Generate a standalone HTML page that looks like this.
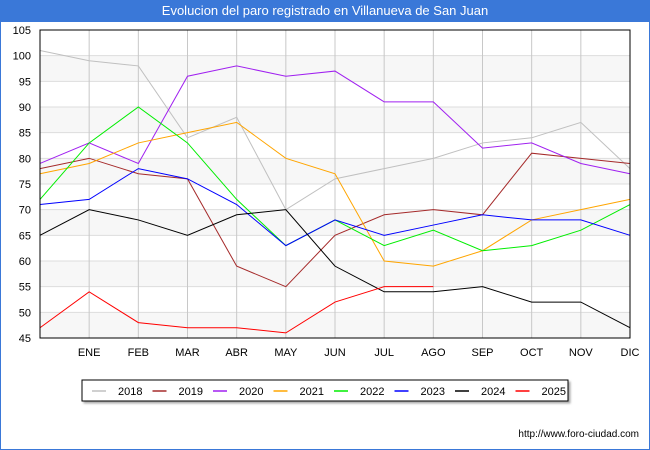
<!DOCTYPE html>
<html><head><meta charset="utf-8"><style>
body{margin:0;width:650px;height:450px;overflow:hidden;font-family:"Liberation Sans",sans-serif;}
#wrap{position:absolute;left:0;top:0;width:648px;height:448px;border:1px solid #3a78d8;background:#fff;}
#title{position:absolute;left:0;top:0;width:650px;height:22px;background:#3a78d8;color:#fff;font-size:13px;text-align:center;line-height:22px;}
</style></head><body>
<div id="wrap"></div>
<div id="title">Evolucion del paro registrado en Villanueva de San Juan</div>
<svg id="c" width="650" height="450" style="position:absolute;left:0;top:0"></svg>
<script>
const months=["","ENE","FEB","MAR","ABR","MAY","JUN","JUL","AGO","SEP","OCT","NOV","DIC"];
const yTicks=[45,50,55,60,65,70,75,80,85,90,95,100,105];
const years=["2018","2019","2020","2021","2022","2023","2024","2025"];
const colors=["#c0c0c0","#a52a2a","#a020f0","#ffa500","#00ee00","#0000ff","#000000","#ff0000"];
const s2018=[101,99,98,84,88,70,76,78,80,83,84,87,78];
const s2019=[78,80,77,76,59,55,65,69,70,69,81,80,79];
const s2020=[79,83,79,96,98,96,97,91,91,82,83,79,77];
const s2021=[77,79,83,85,87,80,77,60,59,62,68,70,72];
const s2022=[72,83,90,83,72,63,68,63,66,62,63,66,71];
const s2023=[71,72,78,76,71,63,68,65,67,69,68,68,65];
const s2024=[65,70,68,65,69,70,59,54,54,55,52,52,47];
const s2025=[47,54,48,47,47,46,52,55,55];
const series=[s2018,s2019,s2020,s2021,s2022,s2023,s2024,s2025];
const L=40,R=630,T=30,B=338,ymin=45,ymax=105;
const X=i=>L+i*(R-L)/12;
const Y=v=>B-(v-ymin)*(B-T)/(ymax-ymin);
const svg=document.getElementById('c');const NS='http://www.w3.org/2000/svg';
function mk(t,a,p){const e=document.createElementNS(NS,t);for(const k in a)e.setAttribute(k,a[k]);(p||svg).appendChild(e);return e;}
for(let i=0;i<yTicks.length-1;i++){
 if(i%2===0){const r=mk('rect',{x:L,y:Y(yTicks[i+1]),width:R-L,height:Y(yTicks[i])-Y(yTicks[i+1]),fill:'#f7f7f7'});
 
 }
}
yTicks.forEach(v=>{
 const l=mk('line',{x1:L,x2:R,y1:Y(v),y2:Y(v),stroke:'#dddddd','stroke-width':1});
 
 
 const t=mk('text',{x:L-9,y:Y(v)+4,'text-anchor':'end','font-size':11,fill:'#000'});t.textContent=v;
 
 
});
months.forEach((m,i)=>{
 if(i>0){const l=mk('line',{x1:X(i),x2:X(i),y1:T,y2:B,stroke:'#c8c8c8','stroke-width':1});
 
 }
 const t=mk('text',{x:X(i),y:B+18,'text-anchor':'middle','font-size':11,fill:'#000'});t.textContent=m;
 
 
});
series.forEach((s,k)=>{
 const p=mk('polyline',{points:s.map((v,i)=>X(i)+','+Y(v)).join(' '),fill:'none',stroke:colors[k],'stroke-width':1});
 
 
});
const fr=mk('rect',{x:L,y:T,width:R-L,height:B-T,fill:'none',stroke:'#000','stroke-width':1});


const lg=mk('rect',{x:82,y:380,width:486,height:21,fill:'#fff',stroke:'#000','stroke-width':1,style:'filter:drop-shadow(2px 2px 1px #aaa)'});


years.forEach((y,k)=>{
 const x0=92+k*60.5;
 const l=mk('line',{x1:x0,x2:x0+14,y1:391,y2:391,stroke:colors[k],'stroke-width':1.5});
 
 
 const t=mk('text',{x:x0+26,y:395,'font-size':11,fill:'#000'});t.textContent=y;
 
 
});
const u=mk('text',{x:639,y:437,'text-anchor':'end','font-size':10,fill:'#000'});u.textContent='http://www.foro-ciudad.com';


</script>
</body></html>
